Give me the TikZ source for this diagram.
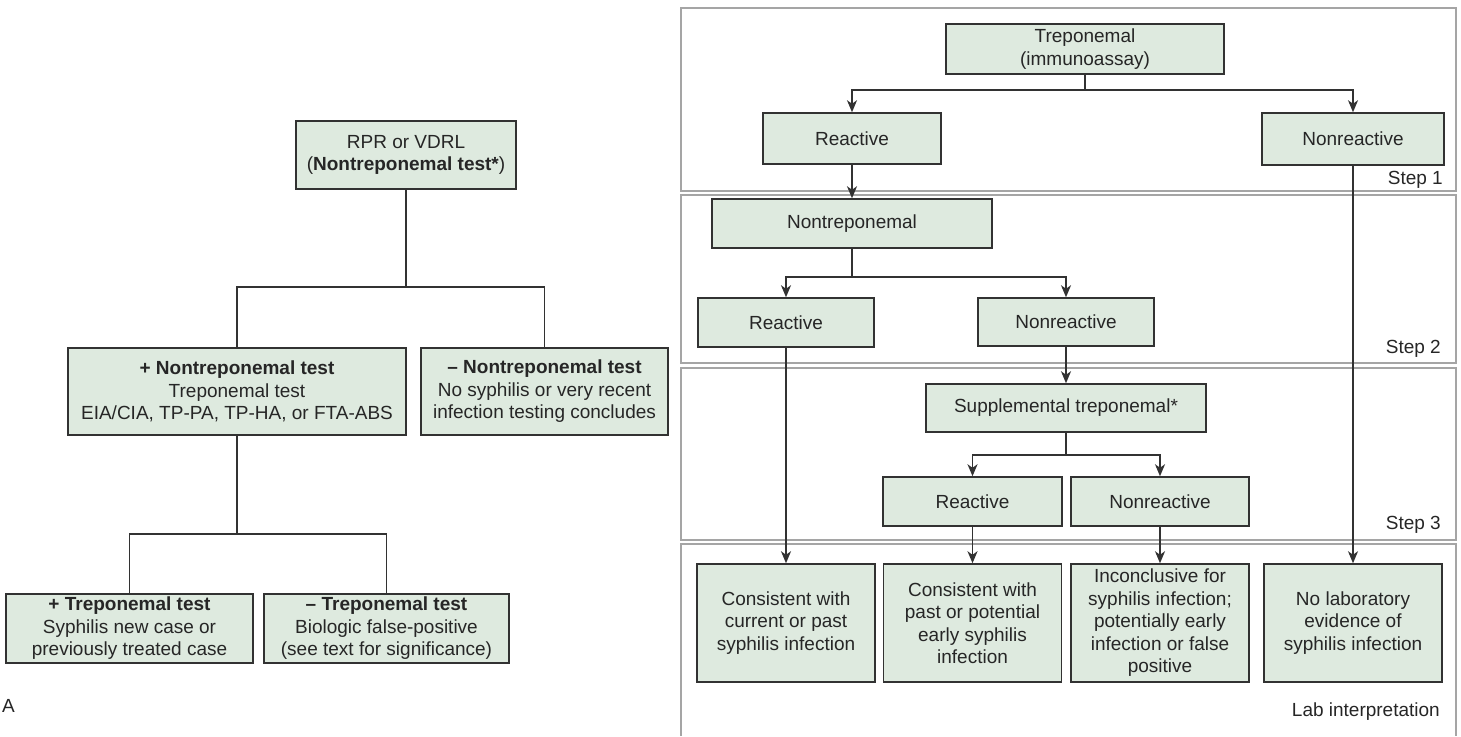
\documentclass[tikz,border=0pt]{standalone}
\usepackage{fontspec}
\setmainfont{Liberation Sans}
\usepackage{tikz}
\usetikzlibrary{arrows.meta}
\definecolor{boxfill}{RGB}{222,234,223}
\definecolor{boxline}{RGB}{50,50,50}
\definecolor{panelline}{RGB}{165,165,165}

\begin{document}
\begin{tikzpicture}
		[x=1pt,y=-1pt,
		every node/.style={font=\fontsize{19}{22.5}\selectfont, text=black!85, inner sep=0pt, align=center},
		box/.style={draw=boxline, fill=boxfill, line width=1.5pt},
		link/.style={draw=boxline, line width=1.4pt},
		arr/.style={link, -{Stealth[length=12pt,width=10pt,inset=3.5pt]}},
		panel/.style={draw=panelline, line width=1.5pt},
		steplabel/.style={anchor=east}]
		\useasboundingbox (0,0) rectangle (1461,736);
		
		\node[box, minimum width=220pt, minimum height=68pt] (rpr) at (406,155) {RPR or VDRL\\(\textbf{Nontreponemal test*})};
		\node[box, minimum width=338pt, minimum height=87pt] (posnt) at (237,391.5) {\textbf{+ Nontreponemal test}\\Treponemal test\\EIA/CIA, TP-PA, TP-HA, or FTA-ABS};
		\node[box, minimum width=247pt, minimum height=87pt] (negnt) at (544.5,391.5) {\textbf{– Nontreponemal test}\\No syphilis or very recent\\infection testing concludes};
		\node[box, minimum width=247pt, minimum height=69pt] (postt) at (129.5,628.5) {\textbf{+ Treponemal test}\\Syphilis new case or\\previously treated case};
		\node[box, minimum width=245pt, minimum height=69pt] (negtt) at (386.5,628.5) {\textbf{– Treponemal test}\\Biologic false-positive\\(see text for significance)};
		\node[anchor=west] (lblA) at (2,706) {A};
		
		\coordinate (s1) at (406,287);
		\coordinate (s2) at (237,534);
		\draw[link] (rpr) -- (s1);
		\draw[link] (posnt.north) |- (s1) -| (negnt.north);
		\draw[link] (posnt) -- (s2);
		\draw[link] (postt.north) |- (s2) -| (negtt.north);
		
		\draw[panel] (681,8) rectangle (1456,191);
		\draw[panel] (681,195) rectangle (1456,363);
		\draw[panel] (681,368) rectangle (1456,540);
		\draw[panel] (681,736) -- (681,544) -- (1456,544) -- (1456,736);
		\node[steplabel] (step1) at (1443,180) {Step 1};
		\node[steplabel] (step2) at (1441,349) {Step 2};
		\node[steplabel] (step3) at (1441,525) {Step 3};
		\node[steplabel] (steplab) at (1440,712) {Lab interpretation};
		
		\node[box, minimum width=278pt, minimum height=50pt] (trep) at (1085,49) {Treponemal\\(immunoassay)};
		\node[box, minimum width=178pt, minimum height=51pt] (reac1) at (852,138.5) {Reactive};
		\node[box, minimum width=182pt, minimum height=52pt] (nonr1) at (1353,139) {Nonreactive};
		\node[box, minimum width=280pt, minimum height=49pt] (nontrep) at (852,223.5) {Nontreponemal};
		\node[box, minimum width=176pt, minimum height=49pt] (reac2) at (786,322.5) {Reactive};
		\node[box, minimum width=176pt, minimum height=48pt] (nonr2) at (1066,322) {Nonreactive};
		\node[box, minimum width=280pt, minimum height=48pt] (supp) at (1066,408) {Supplemental treponemal*};
		\node[box, minimum width=179pt, minimum height=49pt] (reac3) at (972.5,501.5) {Reactive};
		\node[box, minimum width=178pt, minimum height=49pt] (nonr3) at (1160,501.5) {Nonreactive};
		\node[box, minimum width=178pt, minimum height=118pt] (res1) at (786,623) {Consistent with\\current or past\\syphilis infection};
		\node[box, minimum width=178pt, minimum height=118pt] (res2) at (972.5,623) {Consistent with\\past or potential\\early syphilis\\infection};
		\node[box, minimum width=178pt, minimum height=118pt] (res3) at (1160,623) {Inconclusive for\\syphilis infection;\\potentially early\\infection or false\\positive};
		\node[box, minimum width=178pt, minimum height=118pt] (res4) at (1353,623) {No laboratory\\evidence of\\syphilis infection};
		
		\coordinate (s3) at (1085,90);
		\coordinate (s4) at (852,277);
		\coordinate (s5) at (1066,455);
		\draw[link] (trep) -- (s3);
		\draw[arr] (s3) -| (reac1.north);
		\draw[arr] (s3) -| (nonr1.north);
		\draw[arr] (reac1) -- (nontrep);
		\draw[link] (nontrep) -- (s4);
		\draw[arr] (s4) -| (reac2.north);
		\draw[arr] (s4) -| (nonr2.north);
		\draw[arr] (nonr2) -- (supp);
		\draw[link] (supp) -- (s5);
		\draw[arr] (s5) -| (reac3.north);
		\draw[arr] (s5) -| (nonr3.north);
		\draw[arr] (reac2) -- (res1);
		\draw[arr] (reac3) -- (res2);
		\draw[arr] (nonr3) -- (res3);
		\draw[arr] (nonr1) -- (res4);
		
\end{tikzpicture}
\end{document}
